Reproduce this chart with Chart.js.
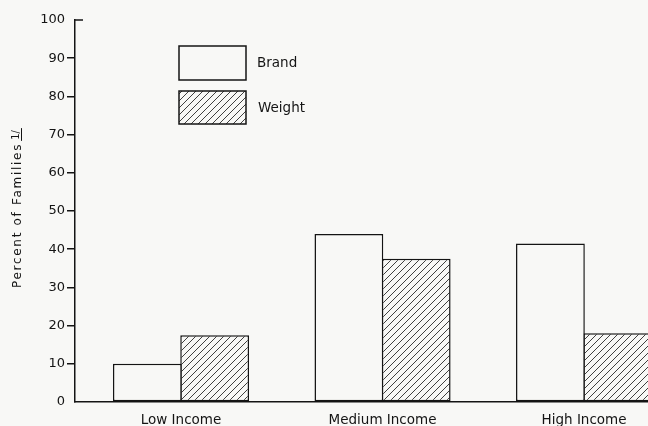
<!DOCTYPE html>
<html>
<head>
<meta charset="utf-8">
<script src="https://cdn.jsdelivr.net/npm/chart.js@4/dist/chart.umd.min.js"></script>
<style>
  html, body { margin: 0; padding: 0; background: #f8f8f6; overflow: hidden; }
  #wrap { width: 682px; height: 426px; }
</style>
</head>
<body>
<div id="wrap"><canvas id="c" width="682" height="426"></canvas></div>
<script>
const categories = ['Low Income', 'Medium Income', 'High Income'];
const seriesNames = ['Brand', 'Weight'];
const brandValues = [10, 44, 41.5];
const weightValues = [17.5, 37.5, 18];
const yTicks = [0, 10, 20, 30, 40, 50, 60, 70, 80, 90, 100];
const yTitle = 'Percent of Families';
const yFootnote = '1/';

const BG = '#f8f8f6';
const INK = '#141414';
const FONT = '"DejaVu Sans", sans-serif';

function makeHatch() {
  const s = 7;
  const t = document.createElement('canvas');
  t.width = s; t.height = s;
  const g = t.getContext('2d');
  g.fillStyle = BG; g.fillRect(0, 0, s, s);
  g.strokeStyle = '#2a2a2a'; g.lineWidth = 0.9;
  g.beginPath();
  g.moveTo(-1, s + 1); g.lineTo(s + 1, -1);
  g.moveTo(-1, 1); g.lineTo(1, -1);
  g.moveTo(s - 1, s + 1); g.lineTo(s + 1, s - 1);
  g.stroke();
  return g.createPattern(t, 'repeat');
}
const hatch = makeHatch();

const bgPlugin = {
  id: 'bg',
  beforeDraw(chart) {
    const ctx = chart.ctx;
    ctx.save();
    ctx.fillStyle = BG;
    ctx.fillRect(0, 0, chart.width, chart.height);
    ctx.restore();
  }
};

const decoPlugin = {
  id: 'deco',
  afterDraw(chart) {
    const ctx = chart.ctx;
    const y = chart.scales.y;
    ctx.save();
    const top = y.getPixelForValue(100);
    ctx.strokeStyle = INK; ctx.lineWidth = 1.5;
    ctx.beginPath();
    ctx.moveTo(y.right, top); ctx.lineTo(y.right + 8, top);
    ctx.stroke();

    const ds = chart.data.datasets;
    const boxes = [{x: 179, y: 46, w: 67, h: 34, tx: 257, ty: 63}, {x: 179, y: 91, w: 67, h: 33, tx: 258, ty: 108}];
    ds.forEach((d, i) => {
      const b = boxes[i];
      ctx.fillStyle = d.backgroundColor;
      ctx.fillRect(b.x, b.y, b.w, b.h);
      ctx.strokeStyle = INK; ctx.lineWidth = 1.5;
      ctx.strokeRect(b.x, b.y, b.w, b.h);
      ctx.fillStyle = INK;
      ctx.font = '13.5px ' + FONT;
      ctx.textBaseline = 'middle';
      ctx.textAlign = 'left';
      ctx.fillText(d.label, b.tx, b.ty);
    });

    ctx.translate(18, 288);
    ctx.rotate(-Math.PI / 2);
    ctx.font = '12px ' + FONT;
    ctx.letterSpacing = '1.7px';
    ctx.textAlign = 'left';
    ctx.textBaseline = 'middle';
    ctx.fillStyle = INK;
    ctx.fillText(yTitle, 0, 0);
    const w = ctx.measureText(yTitle).width;
    ctx.font = '10px ' + FONT;
    ctx.letterSpacing = '0px';
    ctx.fillText(yFootnote, w + 3, -2);
    const fw = ctx.measureText(yFootnote).width;
    ctx.strokeStyle = INK; ctx.lineWidth = 1;
    ctx.beginPath();
    ctx.moveTo(w + 2, 3.5); ctx.lineTo(w + 5 + fw, 3.5);
    ctx.stroke();
    ctx.restore();
  }
};

new Chart(document.getElementById('c'), {
  type: 'bar',
  data: {
    datasets: [
      { label: seriesNames[0], data: brandValues.map((v, i) => ({ x: i, y: v })), backgroundColor: BG, borderColor: INK, borderWidth: 1.5, borderSkipped: false },
      { label: seriesNames[1], data: weightValues.map((v, i) => ({ x: i, y: v })), backgroundColor: hatch, borderColor: INK, borderWidth: 1.5, borderSkipped: false }
    ]
  },
  options: {
    responsive: false,
    animation: false,
    devicePixelRatio: 1,
    layout: { padding: { top: 20, right: 2, left: 0, bottom: 0 } },
    plugins: { legend: { display: false }, tooltip: { enabled: false } },
    datasets: { bar: { categoryPercentage: 0.668, barPercentage: 1.022 } },
    scales: {
      x: {
        type: 'linear',
        min: -0.526, max: 2.476,
        offset: false,
        afterFit(s) { s.height = 24; },
        afterBuildTicks(s) { s.ticks = categories.map((c, i) => ({ value: i })); },
        grid: { display: false },
        border: { display: true, color: INK, width: 1.5 },
        ticks: { color: INK, font: { family: FONT, size: 13.5 }, padding: 2, maxRotation: 0, autoSkip: false,
                 callback: v => categories[v] }
      },
      y: {
        min: 0, max: 100,
        afterFit(s) { s.width = 75; },
        afterBuildTicks(s) { s.ticks = yTicks.map(v => ({ value: v })); },
        grid: {
          drawOnChartArea: false,
          tickLength: 8,
          lineWidth: 1.5,
          color: ctx => (ctx.tick && (ctx.tick.value === 0 || ctx.tick.value === 100)) ? 'rgba(0,0,0,0)' : INK
        },
        border: { display: true, color: INK, width: 1.5 },
        ticks: { color: INK, font: { family: FONT, size: 13 }, padding: 2 }
      }
    }
  },
  plugins: [bgPlugin, decoPlugin]
});
</script>
</body>
</html>
